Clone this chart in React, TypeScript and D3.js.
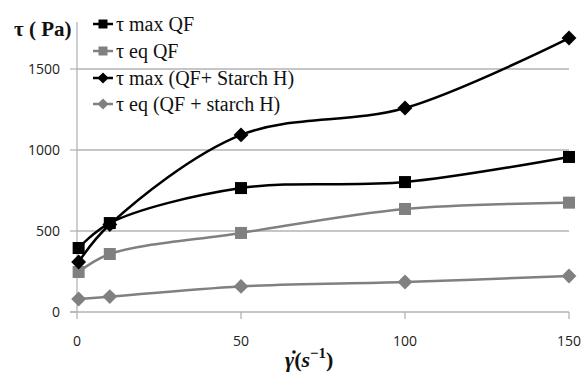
import React, { useEffect, useRef } from 'react';
import * as d3 from 'd3';

// shear rate (1/s)
const shearRates = [0.5, 10, 50, 100, 150];

const tauMaxQF = [395, 549, 765, 802, 957];
const tauEqQF = [247, 358, 488, 636, 675];
const tauMaxStarch = [309, 540, 1093, 1259, 1691];
const tauEqStarch = [80, 95, 158, 185, 222];

const xTicks = [0, 50, 100, 150];
const yTicks = [0, 500, 1000, 1500];

interface Series {
  label: string;
  values: number[];
  color: string;
  marker: 'square' | 'diamond';
}

const seriesList: Series[] = [
  { label: 'τ max QF', values: tauMaxQF, color: '#000000', marker: 'square' },
  { label: 'τ eq QF', values: tauEqQF, color: '#808080', marker: 'square' },
  { label: 'τ max (QF+ Starch H)', values: tauMaxStarch, color: '#000000', marker: 'diamond' },
  { label: 'τ eq (QF + starch H)', values: tauEqStarch, color: '#808080', marker: 'diamond' },
];

const W = 587;
const H = 374;

const App: React.FC = () => {
  const svgRef = useRef<SVGSVGElement>(null);

  useEffect(() => {
    if (!svgRef.current) return;
    const svg = d3.select(svgRef.current);
    svg.selectAll('*').remove();

    const x = d3.scaleLinear().domain([0, 150]).range([77, 569]);
    const y = d3.scaleLinear().domain([0, 1500]).range([312, 69]);

    const sans = '"Open Sans", "Noto Sans", sans-serif';
    const serif = '"Liberation Serif", "DejaVu Serif", serif';

    // gridlines
    svg.append('g')
      .selectAll('line')
      .data(yTicks.slice(1))
      .enter()
      .append('line')
      .attr('x1', x(0))
      .attr('x2', x(150))
      .attr('y1', d => y(d))
      .attr('y2', d => y(d))
      .attr('stroke', '#b3b3b3')
      .attr('stroke-width', 1.3);

    // y axis
    const yAxis = svg.append('g');
    yAxis.append('line')
      .attr('x1', x(0)).attr('x2', x(0))
      .attr('y1', 22).attr('y2', y(0))
      .attr('stroke', '#b3b3b3').attr('stroke-width', 1.3);
    yAxis.selectAll('.tick')
      .data(yTicks)
      .enter()
      .append('line')
      .attr('x1', x(0) - 7).attr('x2', x(0))
      .attr('y1', d => y(d)).attr('y2', d => y(d))
      .attr('stroke', '#b3b3b3').attr('stroke-width', 1.3);
    yAxis.selectAll('text')
      .data(yTicks)
      .enter()
      .append('text')
      .attr('x', 60)
      .attr('y', d => y(d))
      .attr('dy', '0.35em')
      .attr('text-anchor', 'end')
      .attr('font-family', sans)
      .attr('font-size', 14)
      .attr('fill', '#222')
      .text(d => d);

    // x axis
    const xAxis = svg.append('g');
    xAxis.append('line')
      .attr('x1', x(0) - 7).attr('x2', x(150))
      .attr('y1', y(0)).attr('y2', y(0))
      .attr('stroke', '#b3b3b3').attr('stroke-width', 1.3);
    xAxis.selectAll('.tick')
      .data(xTicks)
      .enter()
      .append('line')
      .attr('x1', d => x(d)).attr('x2', d => x(d))
      .attr('y1', y(0)).attr('y2', y(0) + 7)
      .attr('stroke', '#b3b3b3').attr('stroke-width', 1.3);
    xAxis.selectAll('text')
      .data(xTicks)
      .enter()
      .append('text')
      .attr('x', d => x(d))
      .attr('y', 346)
      .attr('text-anchor', 'middle')
      .attr('font-family', sans)
      .attr('font-size', 14)
      .attr('fill', '#222')
      .text(d => d);

    const line = d3.line<number>()
      .x((_, i) => x(shearRates[i]))
      .y(d => y(d))
      .curve(d3.curveCatmullRom.alpha(0.5));

    const drawMarker = (
      g: d3.Selection<SVGGElement, unknown, null, undefined>,
      cx: number, cy: number, s: Series, size: number
    ) => {
      if (s.marker === 'square') {
        g.append('rect')
          .attr('x', cx - size / 2).attr('y', cy - size / 2)
          .attr('width', size).attr('height', size)
          .attr('fill', s.color);
      } else {
        const r = size * 0.62;
        g.append('path')
          .attr('d', `M${cx},${cy - r}L${cx + r},${cy}L${cx},${cy + r}L${cx - r},${cy}Z`)
          .attr('fill', s.color);
      }
    };

    // series
    seriesList.forEach(s => {
      const g = svg.append('g');
      g.append('path')
        .attr('d', line(s.values) || '')
        .attr('fill', 'none')
        .attr('stroke', s.color)
        .attr('stroke-width', 2.5);
      s.values.forEach((v, i) => drawMarker(g, x(shearRates[i]), y(v), s, 12));
    });

    // legend
    const legendY = [24, 51, 78, 104];
    seriesList.forEach((s, i) => {
      const g = svg.append('g');
      const cy = legendY[i];
      g.append('line')
        .attr('x1', 93).attr('x2', 113)
        .attr('y1', cy).attr('y2', cy)
        .attr('stroke', s.color).attr('stroke-width', 2.5);
      drawMarker(g, 103, cy, s, 9);
      g.append('text')
        .attr('x', 116)
        .attr('y', cy)
        .attr('dy', '0.33em')
        .attr('font-family', serif)
        .attr('font-size', 20)
        .attr('fill', '#111')
        .text(s.label);
    });

    // y title
    svg.append('text')
      .attr('x', 14)
      .attr('y', 36)
      .attr('font-family', serif)
      .attr('font-weight', 'bold')
      .attr('font-size', 21)
      .attr('fill', '#111')
      .text('τ ( Pa)');

    // x title: shear rate, dot accent drawn as a small circle
    const xt = svg.append('text')
      .attr('x', 285)
      .attr('y', 367)
      .attr('font-family', serif)
      .attr('font-weight', 'bold')
      .attr('font-size', 22)
      .attr('fill', '#111');
    xt.append('tspan').attr('font-style', 'italic').text('γ');
    xt.append('tspan').text('(');
    xt.append('tspan').attr('font-style', 'italic').text('s');
    xt.append('tspan').attr('font-size', 15).attr('dy', -9).text('−1');
    xt.append('tspan').attr('dy', 9).text(')');
    svg.append('circle')
      .attr('cx', 294)
      .attr('cy', 352)
      .attr('r', 1.8)
      .attr('fill', '#111');
  }, []);

  return (
    <div style={{ position: 'absolute', left: 0, top: 0 }}>
      <svg ref={svgRef} width={W} height={H} style={{ display: 'block', background: '#fff' }} />
    </div>
  );
};

export default App;
